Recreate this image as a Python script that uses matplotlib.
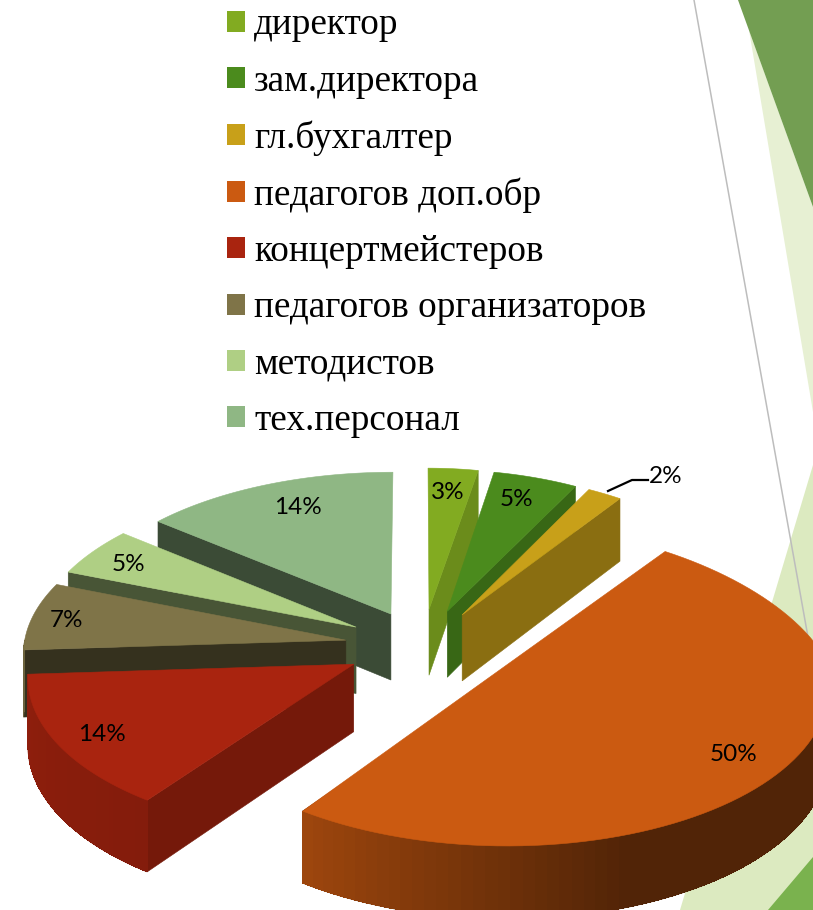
import numpy as np
import matplotlib
matplotlib.use('Agg')
from matplotlib import pyplot as plt
from matplotlib.colors import to_rgb
from matplotlib.patches import Patch, Polygon

labels = ['директор', 'зам.директора', 'гл.бухгалтер', 'педагогов доп.обр',
          'концертмейстеров', 'педагогов организаторов', 'методистов', 'тех.персонал']
values = [3, 5, 2, 50, 14, 7, 5, 14]
colors = ['#82AB21', '#4B8B1D', '#C8A019', '#CB5A11', '#A9240F', '#7F7448', '#AFCF84', '#8FB784']

# how far each slice is pulled out, and how dark its cut side is
explode = [0.24, 0.24, 0.24, 0.30, 0.24, 0.24, 0.24, 0.23]
wall_dark = [0.82, 0.74, 0.69, 0.40, 0.69, 0.42, 0.41, 0.41]
# percent label shift in pixels from the default place on the slice
label_shift = [(-1, -3), (-3, -4), (87, -40), (11, 3), (-16, 7), (-28, 0), (-16, -2), (8, -2)]
draw_order = [7, 6, 5, 4, 0, 1, 2, 3]

CX, CY = 422, 646
RX, RY = 322, 156
PERSP = 0.07
NARROW = 0.08
DEPTH = 67


def project(u, v, z=0.0):
    s = 1 / (1 + PERSP * v)
    # far right part of the pie is a bit narrower in the picture
    k = 1 - NARROW * max(v, 0) if u > 0 else 1
    return CX + RX * u * s * k, CY - RY * v * s + z * s


def slice_point(r, theta, mid, e, z=0.0):
    u = r * np.sin(theta) + e * np.sin(mid)
    v = r * np.cos(theta) + e * np.cos(mid)
    return project(u, v, z)


def shade(color, k):
    return tuple(c * k for c in to_rgb(color))


fig = plt.figure(figsize=(8.13, 9.10), dpi=100)
ax = fig.add_axes([0, 0, 1, 1])
ax.set_xlim(0, 813)
ax.set_ylim(910, 0)
ax.axis('off')

# slide decoration behind the chart
ax.add_patch(Polygon([(749, 30), (813, 207), (813, 412)], fc='#E7F0D3', ec='none', zorder=0))
ax.add_patch(Polygon([(738, 0), (813, 0), (813, 207)], fc='#739E52', ec='none', zorder=0))
ax.add_patch(Polygon([(813, 465), (680, 910), (813, 910)], fc='#DCEAC0', ec='none', zorder=0))
ax.add_patch(Polygon([(768, 910), (813, 857), (813, 910)], fc='#7AB24E', ec='none', zorder=0))
ax.plot([694, 813], [0, 665], color='#BDBDBD', lw=1.1, zorder=1)
ax.plot([610, 626], [910, 901], color='#BDBDBD', lw=1.1, zorder=1)

fracs = np.array(values) / sum(values) * 2 * np.pi
ends = np.cumsum(fracs)
starts = ends - fracs

for i in draw_order:
    t0, t1 = starts[i], ends[i]
    mid = (t0 + t1) / 2
    e = explode[i]
    base = colors[i]

    # cut side that faces the viewer
    t_wall = t1 if mid < np.pi else t0
    a_top = slice_point(0, 0, mid, e)
    a_bot = slice_point(0, 0, mid, e, DEPTH)
    b_top = slice_point(1, t_wall, mid, e)
    b_bot = slice_point(1, t_wall, mid, e, DEPTH)
    ax.add_patch(Polygon([a_top, b_top, b_bot, a_bot], fc=shade(base, wall_dark[i]),
                         ec=shade(base, wall_dark[i]), lw=0.4, zorder=3))

    # outer rim, small strips so the shading can change along it
    ts = np.linspace(t0, t1, 90)
    front = ts[np.cos(ts) <= 0]
    if len(front) > 1:
        upper = [slice_point(1, t, mid, e) for t in front]
        lower = [slice_point(1, t, mid, e, DEPTH) for t in front[::-1]]
        k = np.interp(front.mean(), np.radians([90, 160, 216, 270]), [0.40, 0.40, 0.78, 0.85])
        ax.add_patch(Polygon(upper + lower, fc=shade(base, k), ec=shade(base, k), lw=0.6, zorder=3))
        for a, b in zip(front[:-1], front[1:]):
            k = np.interp((a + b) / 2, np.radians([90, 160, 216, 270]), [0.40, 0.40, 0.78, 0.85])
            ax.add_patch(Polygon([slice_point(1, a, mid, e), slice_point(1, b, mid, e),
                                  slice_point(1, b, mid, e, DEPTH), slice_point(1, a, mid, e, DEPTH)],
                                 fc=shade(base, k), ec='none', antialiased=False, zorder=3))

    top = [slice_point(1, t, mid, e) for t in ts]
    # half pie: the cut is one straight line, no corner at the centre
    if fracs[i] < np.pi - 0.01:
        top = [a_top] + top
    ax.add_patch(Polygon(top, fc=base, ec=base, lw=0.4, zorder=3))

for i in draw_order:
    mid = (starts[i] + ends[i]) / 2
    x, y = slice_point(0.8, mid, mid, explode[i])
    dx, dy = label_shift[i]
    ax.text(x + dx, y + dy, '%d%%' % values[i], family='Lato', fontsize=17.5,
            color='black', ha='center', va='center', zorder=5)

# leader line of the 2% label
ax.plot([608, 632, 648], [491, 480, 480], color='black', lw=1.6, zorder=5)

handles = [Patch(fc=c, ec='none') for c in colors]
ax.legend(handles, labels, loc='upper left', bbox_to_anchor=(227 / 813, 1 - 8 / 910),
          frameon=False, borderpad=0, borderaxespad=0,
          prop={'family': 'Liberation Serif', 'size': 26.8},
          handlelength=0.485, handleheight=0.485, handletextpad=0.25, labelspacing=0.582)

fig.savefig('out.png', dpi=100)
